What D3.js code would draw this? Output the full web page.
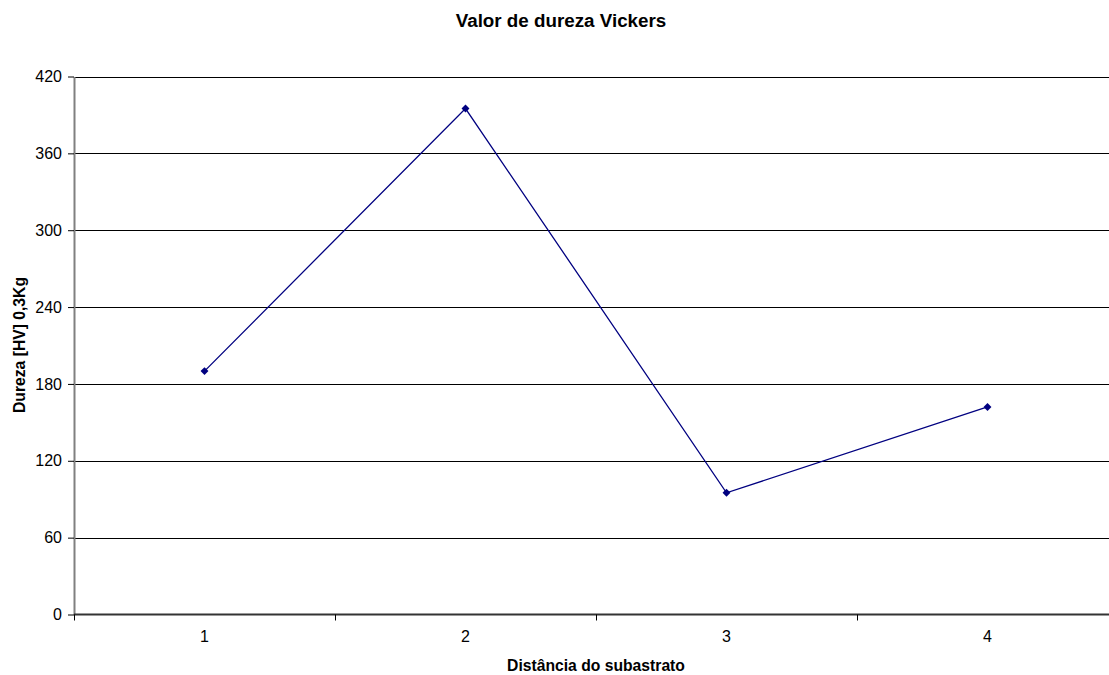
<!DOCTYPE html>
<html lang="pt">
  <head>
    <meta charset="UTF-8" />
    <title>Valor de dureza Vickers</title>
    <script src="https://cdn.jsdelivr.net/npm/d3@7"></script>
    <style>
      body { margin: 0; background: #fff; }
      text { font-family: "Liberation Sans", Arial, sans-serif; }
    </style>
  </head>
  <body>
    <svg width="1109" height="675"></svg>
    <script>
      // dados
      var categories = ["1", "2", "3", "4"];
      var values = [190, 395, 95, 162];
      var yTicks = [0, 60, 120, 180, 240, 300, 360, 420];

      var plot = { left: 74, right: 1118, top: 76.5, bottom: 614.5 };

      const svg = d3.select("svg");

      const x = d3.scaleBand().domain(categories).range([plot.left, plot.right]);
      const y = d3.scaleLinear().domain([0, 420]).range([plot.bottom, plot.top]);

      // linhas de grade
      svg.append("g")
        .selectAll("line")
        .data(yTicks.filter(d => d > 0))
        .enter()
        .append("line")
        .attr("x1", plot.left)
        .attr("x2", plot.right)
        .attr("y1", d => Math.round(y(d)) + 0.5)
        .attr("y2", d => Math.round(y(d)) + 0.5)
        .attr("stroke", "#000")
        .attr("stroke-width", 1);

      // eixo y
      const yAxis = d3.axisLeft(y).tickValues(yTicks).tickSize(6).tickSizeOuter(0);
      const gy = svg.append("g")
        .attr("transform", `translate(${plot.left},0)`)
        .call(yAxis);
      gy.select(".domain").attr("stroke", "#808080").attr("stroke-width", 2);
      gy.selectAll(".tick line").attr("stroke", "#000");
      gy.selectAll(".tick text")
        .attr("x", -12)
        .style("font-family", "'Liberation Sans', Arial, sans-serif")
        .style("font-size", "16px")
        .attr("fill", "#000");

      // eixo x
      const gx = svg.append("g")
        .attr("transform", `translate(0,${plot.bottom})`);
      gx.append("line")
        .attr("x1", plot.left)
        .attr("x2", plot.right)
        .attr("stroke", "#333")
        .attr("stroke-width", 2);
      var bounds = categories.map(c => x(c)).concat([plot.right]);
      gx.selectAll(".tk")
        .data(bounds)
        .enter()
        .append("line")
        .attr("class", "tk")
        .attr("x1", d => Math.round(d) + 0.5)
        .attr("x2", d => Math.round(d) + 0.5)
        .attr("y1", 0)
        .attr("y2", 6)
        .attr("stroke", "#000");
      gx.selectAll(".lbl")
        .data(categories)
        .enter()
        .append("text")
        .attr("class", "lbl")
        .attr("x", d => x(d) + x.bandwidth() / 2)
        .attr("y", 27)
        .attr("text-anchor", "middle")
        .style("font-size", "16px")
        .text(d => d);

      // série
      const line = d3.line()
        .x((d, i) => x(categories[i]) + x.bandwidth() / 2)
        .y(d => y(d));
      svg.append("path")
        .datum(values)
        .attr("d", line)
        .attr("fill", "none")
        .attr("stroke", "#000080")
        .attr("stroke-width", 1.3);
      svg.selectAll(".pt")
        .data(values)
        .enter()
        .append("path")
        .attr("class", "pt")
        .attr("d", d3.symbol().type(d3.symbolDiamond2).size(40))
        .attr("transform", (d, i) => `translate(${x(categories[i]) + x.bandwidth() / 2},${y(d)})`)
        .attr("fill", "#000080");

      // títulos
      svg.append("text")
        .attr("x", 561)
        .attr("y", 27)
        .attr("text-anchor", "middle")
        .style("font-size", "18.8px")
        .style("font-weight", "bold")
        .text("Valor de dureza Vickers");
      svg.append("text")
        .attr("x", 596)
        .attr("y", 671)
        .attr("text-anchor", "middle")
        .style("font-size", "15.7px")
        .style("font-weight", "bold")
        .text("Distância do subastrato");
      svg.append("text")
        .attr("transform", "translate(25,345) rotate(-90)")
        .attr("text-anchor", "middle")
        .style("font-size", "15.7px")
        .style("font-weight", "bold")
        .text("Dureza [HV] 0,3Kg");
    </script>
  </body>
</html>
